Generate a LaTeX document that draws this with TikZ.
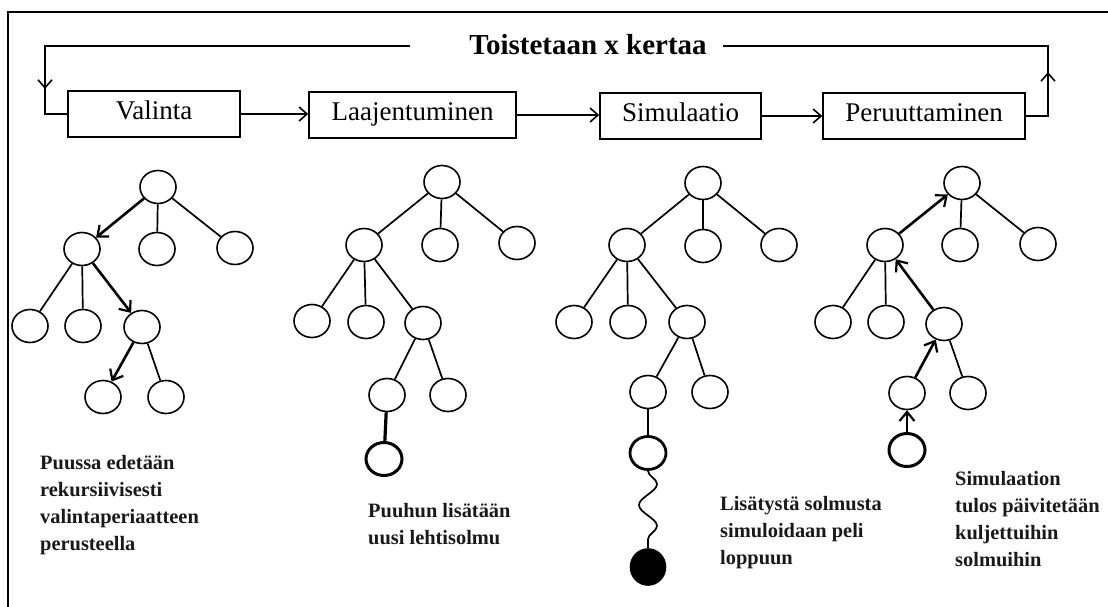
\documentclass[tikz,border=0pt]{standalone}
\usepackage{fontspec}
\setmainfont{Liberation Serif}
\usetikzlibrary{arrows.meta,shapes.geometric,decorations.pathmorphing}
\begin{document}
\begin{tikzpicture}[x=1pt,y=-1pt,
  nd/.style={draw,ellipse,line width=1.6pt,minimum width=36pt,minimum height=33pt,inner sep=0pt},
  nw/.style={nd,line width=3pt},
  nf/.style={nd,fill=black,minimum width=35pt,minimum height=36pt},
  ed/.style={line width=1.7pt},
  ew/.style={line width=3.2pt},
  bd/.style={line width=2.6pt,-{Straight Barb[length=9pt,width=15pt,line width=2.2pt]}},
  box/.style={draw,line width=1.5pt,minimum height=46pt,inner sep=0pt,text height=19pt,text depth=7pt,font=\fontsize{27}{32}\selectfont},
  con/.style={line width=1.6pt},
  cona/.style={line width=1.6pt,-{Straight Barb[length=8pt,width=14pt,line width=1.6pt]}},
  desc/.style={align=left,anchor=north west,inner sep=0pt,text=black!90,font=\fontsize{20.4}{27}\selectfont\bfseries}]
\useasboundingbox (0,0) rectangle (1108,607);
\fill[white] (0,0) rectangle (1108,607);
% frame
\draw[line width=2pt] (8,607) -- (8,12) -- (1108,12);
% title and loop
\node[font=\fontsize{29}{32}\selectfont\bfseries] (title) at (588,45) {Toistetaan x kertaa};
\node[box,minimum width=172pt] (v) at (154,114) {Valinta};
\node[box,minimum width=207pt] (l) at (412.5,115) {Laajentuminen};
\node[box,minimum width=161pt] (s) at (680.5,116) {Simulaatio};
\node[box,minimum width=202pt] (p) at (924,116) {Peruuttaminen};
\coordinate (tl) at (410,46);
\coordinate (tr) at (723,46);
\coordinate (lc) at (45,46);
\coordinate (lb) at (45,114);
\coordinate (la) at (45,89);
\coordinate (rc) at (1048,46);
\coordinate (rb) at (1048,116);
\coordinate (ra) at (1048,72);
\draw[con] (tl) -- (lc) -- (lb) -- (v.west);
\draw[cona] (lc) -- (la);
\draw[con] (p.east) -- (rb) -- (rc) -- (tr);
\draw[cona] (rb) -- (ra);
\draw[cona] (v.east) -- (l.west |- v.east);
\draw[cona] (l.east) -- (s.west |- l.east);
\draw[cona] (s.east) -- (p.west |- s.east);
% tree 1
\node[nd] (r1) at (158,187) {};
\node[nd] (a1) at (82,249) {};
\node[nd] (b1) at (157,249) {};
\node[nd] (c1) at (235,248) {};
\node[nd] (d1) at (30,326) {};
\node[nd] (e1) at (83,326) {};
\node[nd] (f1) at (142,327) {};
\node[nd] (g1) at (103,397) {};
\node[nd] (h1) at (166,397) {};
\draw[bd] (r1) -- (a1);
\draw[ed] (r1) -- (b1);
\draw[ed] (r1) -- (c1);
\draw[ed] (a1) -- (d1);
\draw[ed] (a1) -- (e1);
\draw[bd] (a1) -- (f1);
\draw[bd] (f1) -- (g1);
\draw[ed] (f1) -- (h1);
\node[desc] (t1) at (40,455) {Puussa edetään\\rekursiivisesti\\valintaperiaatteen\\perusteella};
% tree 2
\node[nd] (r2) at (442,182) {};
\node[nd] (a2) at (364,245) {};
\node[nd] (b2) at (440,245) {};
\node[nd] (c2) at (517,243) {};
\node[nd] (d2) at (312,321) {};
\node[nd] (e2) at (366,322) {};
\node[nd] (f2) at (423,323) {};
\node[nd] (g2) at (387,395) {};
\node[nd] (h2) at (448,395) {};
\node[nw] (n2) at (384,459) {};
\draw[ed] (r2) -- (a2);
\draw[ed] (r2) -- (b2);
\draw[ed] (r2) -- (c2);
\draw[ed] (a2) -- (d2);
\draw[ed] (a2) -- (e2);
\draw[ed] (a2) -- (f2);
\draw[ed] (f2) -- (g2);
\draw[ed] (f2) -- (h2);
\draw[ew] (g2) -- (n2);
\node[desc] (t2) at (368,503) {Puuhun lisätään\\uusi lehtisolmu};
% tree 3
\node[nd] (r3) at (703,183) {};
\node[nd] (a3) at (627,245) {};
\node[nd] (b3) at (703,246) {};
\node[nd] (c3) at (779,245) {};
\node[nd] (d3) at (574,322) {};
\node[nd] (e3) at (628,322) {};
\node[nd] (f3) at (687,322) {};
\node[nd] (g3) at (648,392) {};
\node[nd] (h3) at (710,392) {};
\node[nd,line width=2.8pt] (n3) at (648,453) {};
\node[nf] (s3) at (648,567) {};
\draw[ed] (r3) -- (a3);
\draw[ed] (r3) -- (b3);
\draw[ed] (r3) -- (c3);
\draw[ed] (a3) -- (d3);
\draw[ed] (a3) -- (e3);
\draw[ed] (a3) -- (f3);
\draw[ed] (f3) -- (g3);
\draw[ed] (f3) -- (h3);
\draw[ed] (g3) -- (n3);
\draw[ed,decorate,decoration={snake,amplitude=9pt,segment length=42pt}] (n3.south) -- (s3.north);
\node[desc] (t3) at (720,496) {Lisätystä solmusta\\simuloidaan peli\\loppuun};
% tree 4
\node[nd] (r4) at (962,183) {};
\node[nd] (a4) at (885,245) {};
\node[nd] (b4) at (960,245) {};
\node[nd] (c4) at (1038,244) {};
\node[nd] (d4) at (833,322) {};
\node[nd] (e4) at (886,322) {};
\node[nd] (f4) at (944,324) {};
\node[nd] (g4) at (907,393) {};
\node[nd] (h4) at (968,393) {};
\node[nw] (n4) at (907,450) {};
\draw[bd] (a4) -- (r4);
\draw[ed] (r4) -- (b4);
\draw[ed] (r4) -- (c4);
\draw[ed] (a4) -- (d4);
\draw[ed] (a4) -- (e4);
\draw[bd] (f4) -- (a4);
\draw[bd] (g4) -- (f4);
\draw[ed] (f4) -- (h4);
\draw[bd] (n4) -- (g4);
\node[desc] (t4) at (955,471) {Simulaation\\tulos päivitetään\\kuljettuihin\\solmuihin};
\end{tikzpicture}
\end{document}
